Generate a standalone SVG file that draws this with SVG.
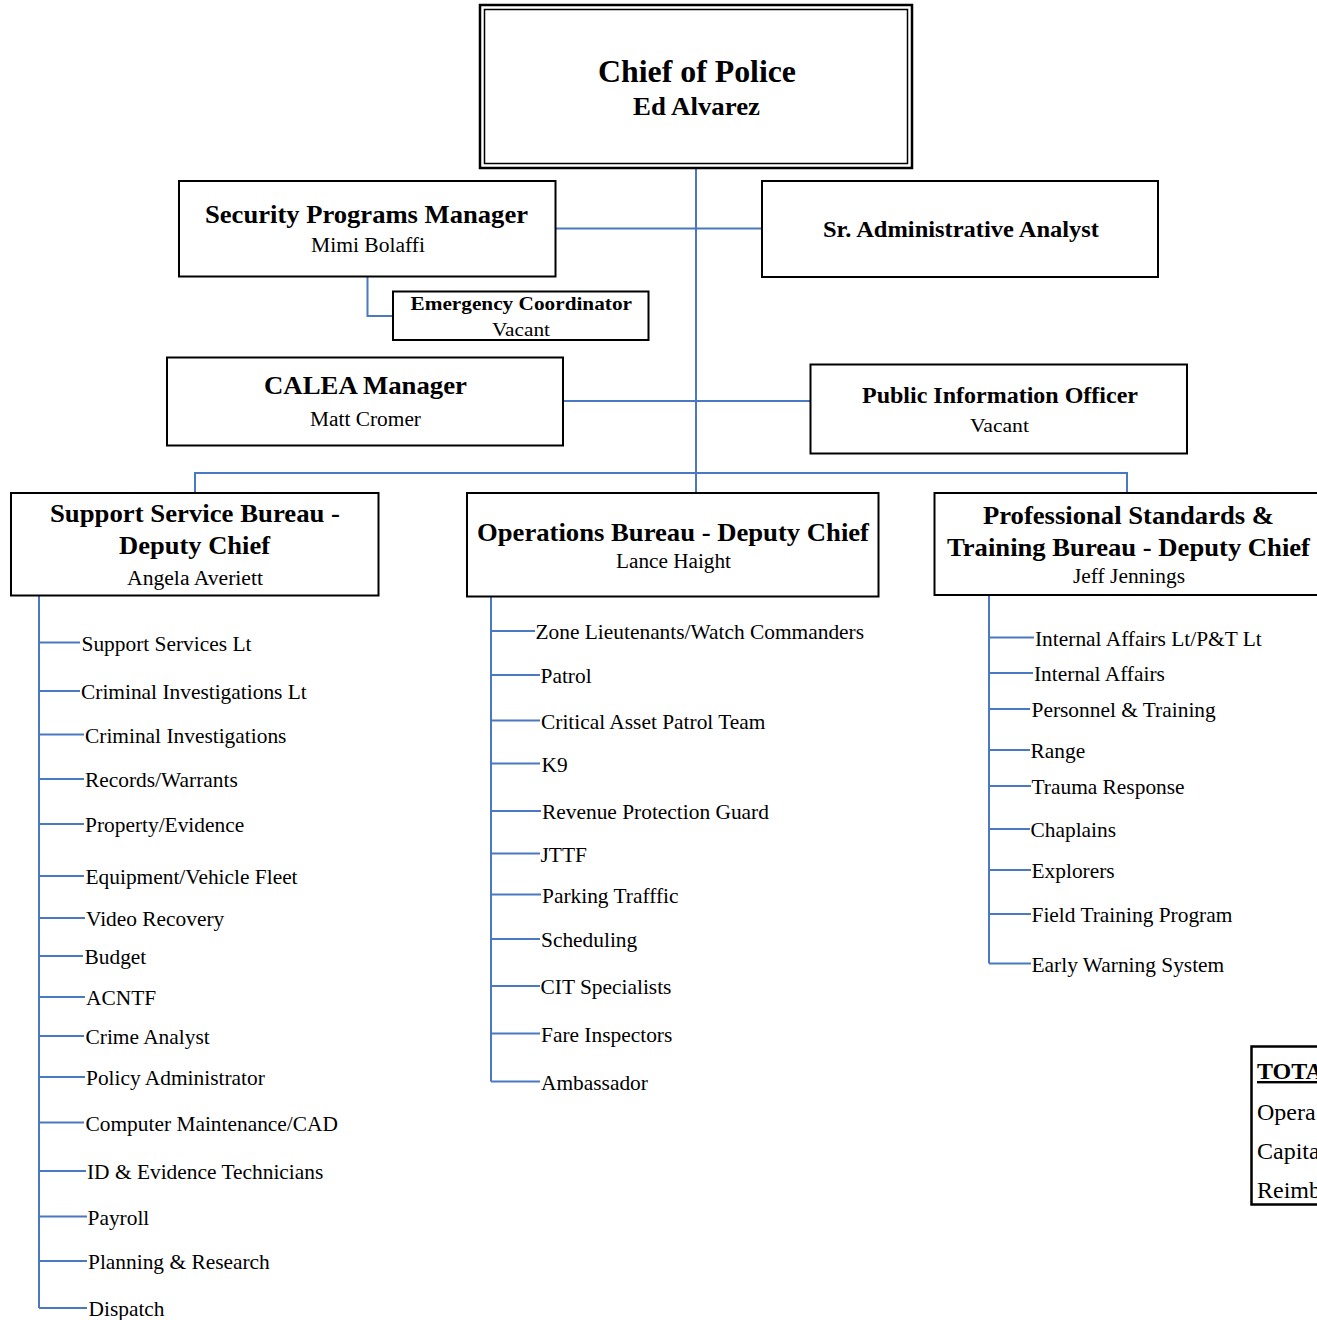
<svg xmlns="http://www.w3.org/2000/svg" width="1317" height="1320" viewBox="0 0 1317 1320">
  <style>
    .box { fill: #ffffff; stroke: #000000; stroke-width: 2; }
    .conn { fill: none; stroke: #4a78c2; stroke-width: 2; }
    .t { font-family: "Liberation Serif", "Times New Roman", serif; fill: #000000; }
    .b { font-weight: bold; }
    .item { font-family: "Liberation Serif", "Times New Roman", serif; font-size: 21.4px; fill: #000000; }
  </style>
  <rect x="0" y="0" width="1317" height="1320" fill="#ffffff"/>

  <!-- reporting lines -->
  <g id="connectors" class="conn">
    <path d="M696 169 V492"/>
    <path d="M556 228.5 H762"/>
    <path d="M367.5 277 V316 H393"/>
    <path d="M563 401 H810"/>
    <path d="M195 493 V473 H1127 V493"/>
    <!-- Support Service Bureau branches -->
    <path d="M39 596 V1308"/>
    <path d="M39 642.5 H80 M39 691 H80 M39 734.5 H84 M39 779 H84 M39 824 H84 M39 876 H84 M39 918 H85 M39 956 H83 M39 997 H85 M39 1036 H84 M39 1077 H85 M39 1122.5 H84 M39 1171 H86 M39 1216.5 H87 M39 1261 H87 M39 1308 H87"/>
    <!-- Operations Bureau branches -->
    <path d="M491 597 V1081.5"/>
    <path d="M491 631 H535 M491 675 H540 M491 720.5 H540 M491 763.5 H540 M491 811 H541 M491 853.5 H540 M491 894.5 H541 M491 939 H540 M491 986 H540 M491 1033.5 H540 M491 1081.5 H540"/>
    <!-- Professional Standards & Training Bureau branches -->
    <path d="M989 596 V963.5"/>
    <path d="M989 637.5 H1034 M989 673 H1033 M989 709 H1030 M989 750 H1030 M989 786 H1031 M989 829 H1030 M989 870 H1031 M989 914 H1031 M989 963.5 H1031"/>
  </g>

  <g id="chief">
    <rect x="480" y="5" width="432" height="163" fill="#ffffff" stroke="#000" stroke-width="2.5"/>
    <rect x="484.5" y="9.5" width="423" height="154" fill="none" stroke="#000" stroke-width="1.5"/>
    <text class="t b" x="598" y="82" font-size="32" textLength="198" lengthAdjust="spacingAndGlyphs">Chief of Police</text>
    <text class="t b" x="633" y="115" font-size="25" textLength="127" lengthAdjust="spacingAndGlyphs">Ed Alvarez</text>
  </g>

  <g id="security-programs-manager">
    <rect class="box" x="179" y="181" width="376.5" height="95.5"/>
    <text class="t b" x="205" y="223" font-size="25" textLength="323" lengthAdjust="spacingAndGlyphs">Security Programs Manager</text>
    <text class="t" x="311" y="252" font-size="20" textLength="114" lengthAdjust="spacingAndGlyphs">Mimi Bolaffi</text>
  </g>

  <g id="sr-administrative-analyst">
    <rect class="box" x="762" y="181" width="396" height="96"/>
    <text class="t b" x="823" y="237" font-size="23" textLength="276" lengthAdjust="spacingAndGlyphs">Sr. Administrative Analyst</text>
  </g>

  <g id="emergency-coordinator">
    <rect class="box" x="393" y="291.5" width="255.5" height="48.5"/>
    <text class="t b" x="410.5" y="310" font-size="19" textLength="221.5" lengthAdjust="spacingAndGlyphs">Emergency Coordinator</text>
    <text class="t" x="492" y="336" font-size="19" textLength="58" lengthAdjust="spacingAndGlyphs">Vacant</text>
  </g>

  <g id="calea-manager">
    <rect class="box" x="167" y="357.5" width="396" height="88"/>
    <text class="t b" x="264" y="394" font-size="25" textLength="203" lengthAdjust="spacingAndGlyphs">CALEA Manager</text>
    <text class="t" x="310" y="426" font-size="20" textLength="111" lengthAdjust="spacingAndGlyphs">Matt Cromer</text>
  </g>

  <g id="public-information-officer">
    <rect class="box" x="810.5" y="364.5" width="376.5" height="89"/>
    <text class="t b" x="862" y="403" font-size="23" textLength="276" lengthAdjust="spacingAndGlyphs">Public Information Officer</text>
    <text class="t" x="970" y="432" font-size="19" textLength="59" lengthAdjust="spacingAndGlyphs">Vacant</text>
  </g>

  <g id="support-service-bureau">
    <rect class="box" x="11" y="493" width="367.5" height="102.5"/>
    <text class="t b" x="50" y="522" font-size="25" textLength="290" lengthAdjust="spacingAndGlyphs">Support Service Bureau -</text>
    <text class="t b" x="119" y="554" font-size="25" textLength="151" lengthAdjust="spacingAndGlyphs">Deputy Chief</text>
    <text class="t" x="127" y="585" font-size="20" textLength="136" lengthAdjust="spacingAndGlyphs">Angela Averiett</text>
  </g>

  <g id="operations-bureau">
    <rect class="box" x="467" y="493" width="411.5" height="103.5"/>
    <text class="t b" x="477" y="541" font-size="25" textLength="392" lengthAdjust="spacingAndGlyphs">Operations Bureau - Deputy Chief</text>
    <text class="t" x="616" y="568" font-size="20" textLength="115" lengthAdjust="spacingAndGlyphs">Lance Haight</text>
  </g>

  <g id="professional-standards-bureau">
    <rect class="box" x="934.5" y="493" width="395" height="102"/>
    <text class="t b" x="983" y="524" font-size="25" textLength="291" lengthAdjust="spacingAndGlyphs">Professional Standards &amp;</text>
    <text class="t b" x="947" y="556" font-size="25" textLength="363" lengthAdjust="spacingAndGlyphs">Training Bureau - Deputy Chief</text>
    <text class="t" x="1073" y="583" font-size="20" textLength="112" lengthAdjust="spacingAndGlyphs">Jeff Jennings</text>
  </g>

  <g id="support-units">
    <text class="item" x="81.5" y="650.5">Support Services Lt</text>
    <text class="item" x="81" y="699">Criminal Investigations Lt</text>
    <text class="item" x="85" y="742.5">Criminal Investigations</text>
    <text class="item" x="85" y="787">Records/Warrants</text>
    <text class="item" x="85" y="832">Property/Evidence</text>
    <text class="item" x="85.5" y="884">Equipment/Vehicle Fleet</text>
    <text class="item" x="86" y="926">Video Recovery</text>
    <text class="item" x="84.5" y="964">Budget</text>
    <text class="item" x="86" y="1005">ACNTF</text>
    <text class="item" x="85.5" y="1044">Crime Analyst</text>
    <text class="item" x="86" y="1085">Policy Administrator</text>
    <text class="item" x="85.5" y="1130.5">Computer Maintenance/CAD</text>
    <text class="item" x="87" y="1179">ID &amp; Evidence Technicians</text>
    <text class="item" x="87.5" y="1224.5">Payroll</text>
    <text class="item" x="88" y="1269">Planning &amp; Research</text>
    <text class="item" x="88.5" y="1316">Dispatch</text>
  </g>

  <g id="operations-units">
    <text class="item" x="535.5" y="639">Zone Lieutenants/Watch Commanders</text>
    <text class="item" x="540.5" y="683">Patrol</text>
    <text class="item" x="541" y="728.5">Critical Asset Patrol Team</text>
    <text class="item" x="541.5" y="771.5">K9</text>
    <text class="item" x="542" y="819">Revenue Protection Guard</text>
    <text class="item" x="540.5" y="861.5">JTTF</text>
    <text class="item" x="542" y="902.5">Parking Trafffic</text>
    <text class="item" x="541" y="947">Scheduling</text>
    <text class="item" x="540.5" y="994">CIT Specialists</text>
    <text class="item" x="541" y="1041.5">Fare Inspectors</text>
    <text class="item" x="541" y="1089.5">Ambassador</text>
  </g>

  <g id="professional-standards-units">
    <text class="item" x="1035" y="645.5">Internal Affairs Lt/P&amp;T Lt</text>
    <text class="item" x="1034" y="681">Internal Affairs</text>
    <text class="item" x="1031.5" y="717">Personnel &amp; Training</text>
    <text class="item" x="1030.5" y="758">Range</text>
    <text class="item" x="1031.5" y="794">Trauma Response</text>
    <text class="item" x="1030.5" y="837">Chaplains</text>
    <text class="item" x="1031.5" y="878">Explorers</text>
    <text class="item" x="1031.5" y="922">Field Training Program</text>
    <text class="item" x="1031.5" y="971.5">Early Warning System</text>
  </g>

  <g id="totals">
    <rect x="1251.5" y="1046.5" width="90" height="158" fill="#ffffff" stroke="#000" stroke-width="2.5"/>
    <text class="t b" x="1257" y="1079" font-size="24" text-decoration="underline">TOTA</text>
    <text class="t" x="1257" y="1119.5" font-size="24">Opera</text>
    <text class="t" x="1257" y="1159" font-size="24">Capita</text>
    <text class="t" x="1257" y="1198" font-size="24">Reimb</text>
  </g>
</svg>
